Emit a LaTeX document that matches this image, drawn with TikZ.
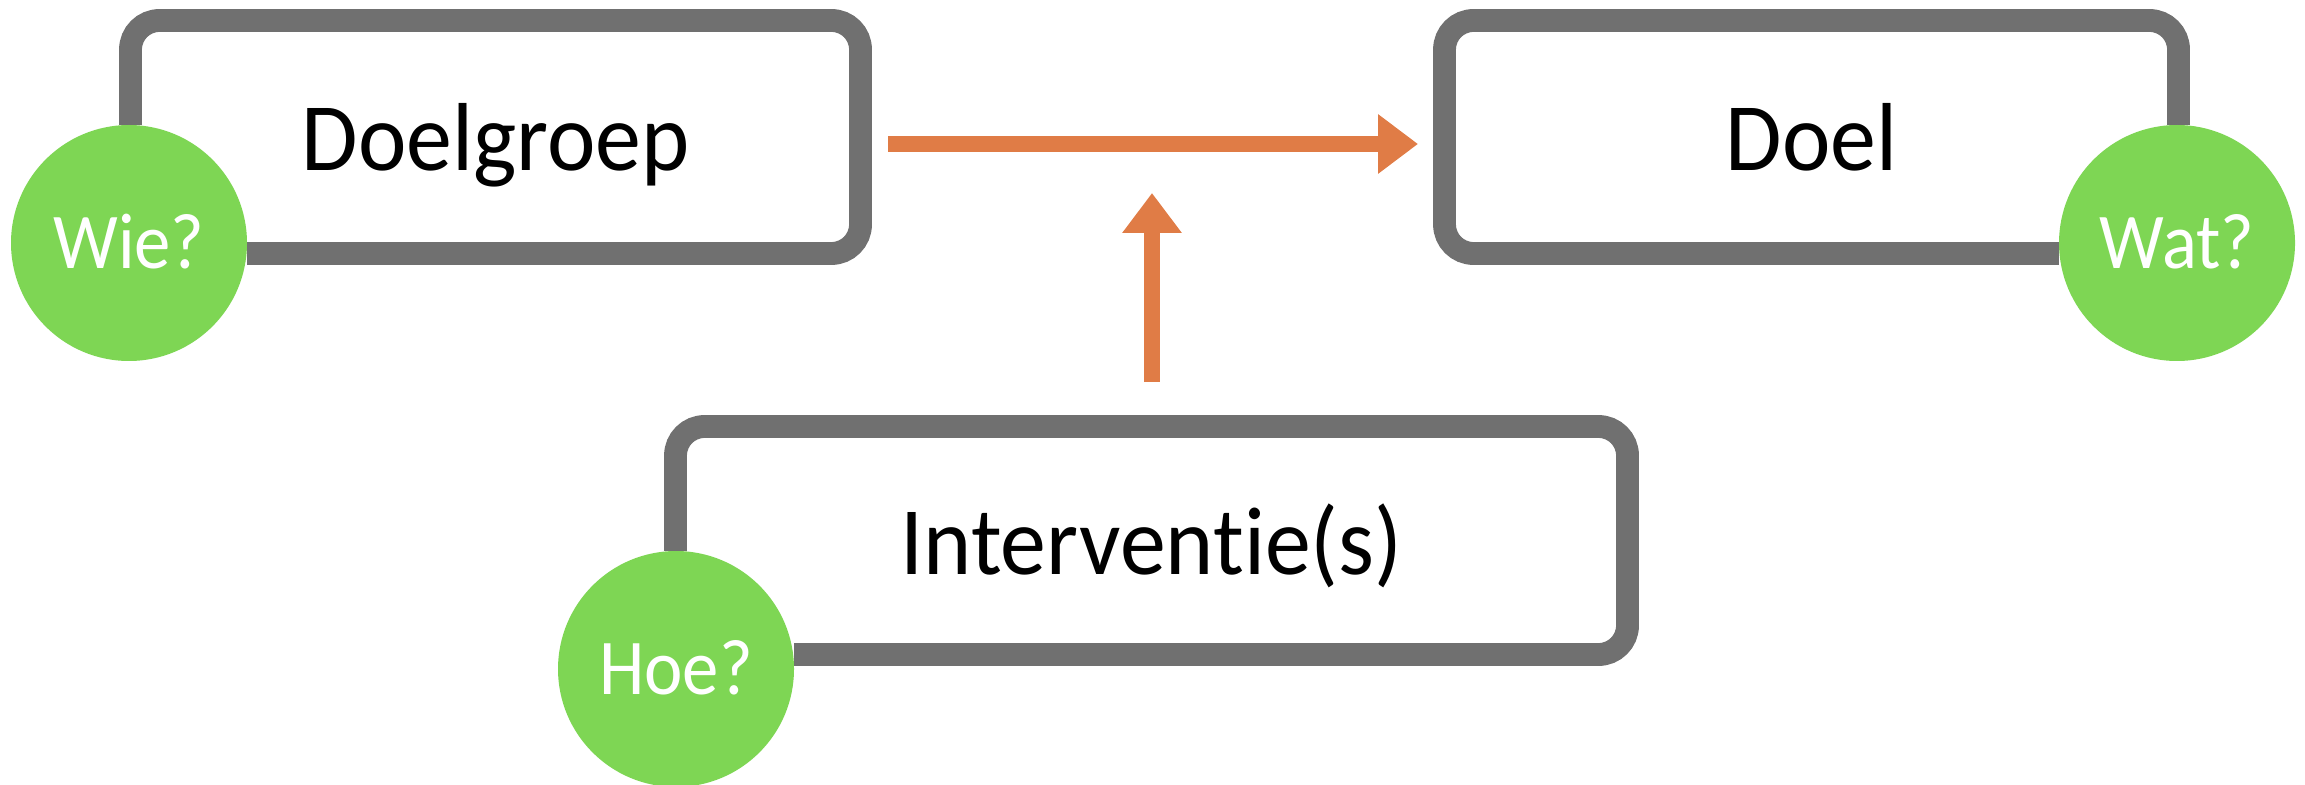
\documentclass[tikz,border=0pt]{standalone}
\usepackage{fontspec}
\setmainfont{Carlito}[Ligatures={NoCommon,NoRare,NoContextual}]
\usetikzlibrary{arrows.meta}
\definecolor{boxgray}{RGB}{112,112,112}
\definecolor{arroworange}{RGB}{224,124,70}
\definecolor{qgreen}{RGB}{126,214,84}
\newcommand{\narrow}[1]{\scalebox{0.95}[1]{#1}}
\newcommand{\narrowq}[1]{\scalebox{0.92}[1]{#1}}
\begin{document}
\begin{tikzpicture}[x=0.1mm,y=-0.1mm,
  box/.style={draw=boxgray, line width=6.5pt, rounded corners=2.9mm, fill=white,
    inner sep=0pt, outer sep=0pt, text height=8mm, text depth=1.2mm,
    font=\fontsize{27.5}{33}\selectfont},
  qbg/.style={fill=white, minimum size=23.6mm, inner sep=0pt, outer sep=0pt},
  qcirc/.style={circle, fill=qgreen, minimum size=23.6mm, inner sep=0pt, outer sep=0pt,
    text=white, text height=5.1mm, text depth=0pt, font=\fontsize{22.5}{27}\selectfont},
  arr/.style={draw=arroworange, line width=4.5pt,
    -{Triangle[length=4mm,width=5.7mm]}}]
\useasboundingbox (0,0) rectangle (2305,785);

% boxes
\node[box, minimum width=73mm, minimum height=23.3mm] (dg) at (495.5,137) {\narrow{Doelgroep}};
\node[box, minimum width=73.4mm, minimum height=23.3mm] (doel) at (1811.5,137) {\narrow{Doel}};
\node[box, minimum width=95.2mm, minimum height=22.8mm] (iv) at (1151.5,540.5) {\narrow{Interventie(s)}};

% white backgrounds behind the question circles
\node[qbg] (wiebg) at (129,243) {};
\node[qbg] (watbg) at (2177,243) {};
\node[qbg] (hoebg) at (676,669) {};

% question circles
\node[qcirc] (wie) at (129,243) {\narrowq{Wie?}};
\node[qcirc] (wat) at (2177,243) {\narrowq{Wat?}};
\node[qcirc] (hoe) at (676,669) {\narrowq{Hoe?}};

% connectors
\coordinate (mid) at (1152,144);
\draw[arr, shorten <=2.75mm, shorten >=2.65mm] ([yshift=-0.7mm]dg.east) -- ([yshift=-0.7mm]doel.west);
\draw[arr, shorten <=4.45mm, shorten >=4.9mm] (iv.north -| mid) -- (mid);
\end{tikzpicture}
\end{document}
